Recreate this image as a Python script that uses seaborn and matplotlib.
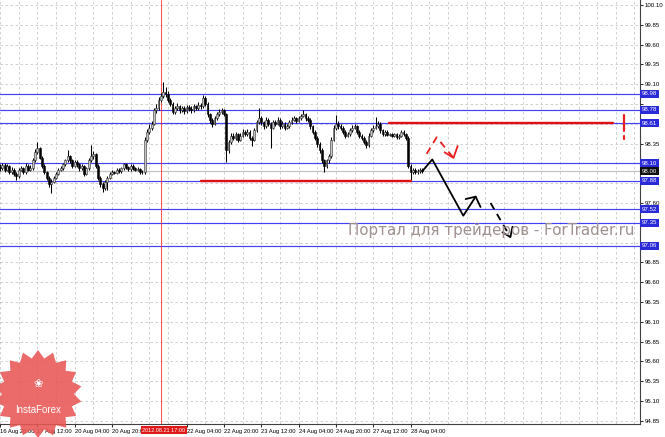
import numpy as np
import seaborn as sns
import matplotlib.pyplot as plt
import matplotlib.transforms as mtransforms
from matplotlib.patches import Polygon

# hourly bars, bar 0 = 16 Aug 20:00
first_open = 98.06
closes = [
    98.04, 98.08, 98.02, 98.07, 97.99, 98.02, 97.97, 97.94, 98.02, 98.04,
    97.99, 98.07, 98.02, 98.04, 98.14, 98.24, 98.29, 98.17, 98.07, 97.99,
    97.92, 97.84, 97.87, 97.92, 97.97, 98.02, 98.04, 98.09, 98.14, 98.19,
    98.14, 98.07, 98.12, 98.09, 98.04, 98.07, 97.97, 98.04, 98.14, 98.19,
    98.22, 98.07, 97.92, 97.84, 97.79, 97.87, 97.92, 97.97, 97.99, 97.98,
    98.02, 98.00, 98.04, 98.09, 98.05, 98.03, 98.07, 98.04, 98.02, 98.03,
    97.99, 97.99, 98.40, 98.50, 98.55, 98.60, 98.77, 98.80, 98.90, 98.95,
    99.00, 98.98, 98.90, 98.85, 98.75, 98.80, 98.82, 98.77, 98.80, 98.76,
    98.81, 98.79, 98.77, 98.82, 98.80, 98.84, 98.82, 98.93, 98.85, 98.72,
    98.65, 98.60, 98.67, 98.72, 98.75, 98.77, 98.72, 98.27, 98.37, 98.45,
    98.42, 98.47, 98.40, 98.45, 98.50, 98.47, 98.50, 98.42, 98.40, 98.52,
    98.62, 98.67, 98.62, 98.57, 98.65, 98.60, 98.55, 98.62, 98.60, 98.65,
    98.57, 98.60, 98.55, 98.57, 98.62, 98.65, 98.67, 98.64, 98.67, 98.70,
    98.72, 98.67, 98.65, 98.57, 98.50, 98.42, 98.35, 98.27, 98.14, 98.07,
    98.14, 98.19, 98.40, 98.55, 98.60, 98.57, 98.55, 98.50, 98.45, 98.47,
    98.52, 98.55, 98.57, 98.50, 98.45, 98.42, 98.37, 98.33, 98.45, 98.52,
    98.55, 98.57, 98.60, 98.52, 98.47, 98.50, 98.46, 98.47, 98.45, 98.47,
    98.43, 98.45, 98.50, 98.47, 98.42, 98.07, 97.99, 98.02, 97.99, 98.00,
    98.02, 98.00,
]
highs = [
    98.09, 98.11, 98.10, 98.09, 98.08, 98.05, 98.04, 97.99, 98.04, 98.07,
    98.06, 98.10, 98.09, 98.08, 98.17, 98.28, 98.37, 98.31, 98.19, 98.09,
    98.01, 97.94, 97.90, 97.94, 97.99, 98.04, 98.07, 98.11, 98.16, 98.27,
    98.21, 98.15, 98.14, 98.14, 98.10, 98.09, 98.08, 98.06, 98.17, 98.33,
    98.26, 98.23, 98.09, 97.94, 97.86, 97.89, 97.94, 97.99, 98.02, 98.01,
    98.04, 98.04, 98.06, 98.11, 98.10, 98.07, 98.09, 98.09, 98.06, 98.05,
    98.04, 98.02, 98.43, 98.54, 98.60, 98.64, 98.80, 98.85, 98.94, 98.99,
    99.13, 99.06, 99.01, 98.93, 98.87, 98.83, 98.86, 98.84, 98.83, 98.82,
    98.84, 98.84, 98.82, 98.85, 98.84, 98.87, 98.86, 98.96, 98.95, 98.87,
    98.74, 98.67, 98.70, 98.75, 98.79, 98.80, 98.79, 98.74, 98.40, 98.48,
    98.48, 98.50, 98.49, 98.48, 98.53, 98.52, 98.53, 98.52, 98.45, 98.55,
    98.65, 98.80, 98.70, 98.64, 98.68, 98.67, 98.62, 98.65, 98.65, 98.68,
    98.67, 98.63, 98.62, 98.60, 98.65, 98.68, 98.70, 98.69, 98.70, 98.73,
    98.77, 98.74, 98.70, 98.67, 98.59, 98.52, 98.44, 98.37, 98.29, 98.16,
    98.16, 98.22, 98.43, 98.58, 98.71, 98.63, 98.60, 98.57, 98.52, 98.50,
    98.55, 98.58, 98.60, 98.59, 98.52, 98.47, 98.44, 98.39, 98.48, 98.55,
    98.58, 98.69, 98.63, 98.62, 98.54, 98.52, 98.52, 98.49, 98.49, 98.49,
    98.49, 98.47, 98.52, 98.52, 98.49, 98.44, 98.09, 98.04, 98.04, 98.03,
    98.04, 98.04,
]
lows = [
    98.01, 98.02, 97.99, 98.00, 97.96, 97.97, 97.94, 97.89, 97.92, 98.00,
    97.96, 97.97, 98.00, 98.00, 98.02, 98.12, 98.22, 98.15, 98.04, 97.96,
    97.89, 97.80, 97.73, 97.85, 97.90, 97.95, 98.00, 98.02, 98.07, 98.12,
    98.11, 98.04, 98.05, 98.06, 98.01, 98.02, 97.94, 97.95, 98.02, 98.12,
    98.16, 98.04, 97.89, 97.80, 97.74, 97.77, 97.76, 97.90, 97.95, 97.96,
    97.96, 97.98, 97.98, 98.02, 98.03, 98.01, 98.01, 98.02, 98.00, 98.00,
    97.97, 97.96, 97.97, 98.37, 98.47, 98.52, 98.58, 98.74, 98.77, 98.87,
    98.92, 98.94, 98.87, 98.82, 98.72, 98.73, 98.78, 98.74, 98.75, 98.73,
    98.74, 98.76, 98.74, 98.75, 98.77, 98.78, 98.79, 98.80, 98.82, 98.69,
    98.61, 98.56, 98.58, 98.65, 98.70, 98.73, 98.70, 98.12, 98.23, 98.34,
    98.39, 98.40, 98.37, 98.38, 98.43, 98.44, 98.45, 98.39, 98.32, 98.38,
    98.50, 98.60, 98.59, 98.54, 98.55, 98.57, 98.29, 98.53, 98.57, 98.58,
    98.54, 98.55, 98.52, 98.53, 98.55, 98.60, 98.63, 98.61, 98.62, 98.65,
    98.68, 98.64, 98.62, 98.54, 98.47, 98.39, 98.31, 98.23, 98.10, 97.99,
    98.04, 98.11, 98.17, 98.38, 98.52, 98.54, 98.52, 98.47, 98.42, 98.43,
    98.45, 98.50, 98.53, 98.47, 98.42, 98.39, 98.34, 98.30, 98.31, 98.43,
    98.50, 98.53, 98.55, 98.49, 98.44, 98.45, 98.44, 98.44, 98.43, 98.43,
    98.41, 98.41, 98.43, 98.45, 98.39, 98.04, 97.89, 97.96, 97.97, 97.97,
    97.98, 97.98,
]

tick_bars = [0, 16, 32, 48, 80, 96, 112, 128, 144, 160, 176]
tick_labels = ['16 Aug 20:00', '17 Aug 12:00', '20 Aug 04:00', '20 Aug 20:00',
               '22 Aug 04:00', '22 Aug 20:00', '23 Aug 12:00', '24 Aug 04:00',
               '24 Aug 20:00', '27 Aug 12:00', '28 Aug 04:00']
crosshair_bar = 69
crosshair_label = '2012.08.21 17:00'

level_lines = [98.98, 98.78, 98.61, 98.10, 97.88, 97.52, 97.35, 97.06]
current_price = 98.00

support_price = 97.88
support_bars = [86.3, 176.1]
resist_price = 98.61
resist_bars = [166.7, 262.8]

# hand drawn forecast arrows (bar index, price)
path_bars = [181, 185.3, 198.6, 203.9]
path_prices = [98.00, 98.15, 97.44, 97.68]
path_head_bars = [199.6, 203.9, 206.0]
path_head_prices = [97.65, 97.68, 97.55]
dash_bars = [210.3, 218.8]
dash_prices = [97.60, 97.17]
dash_head_bars = [215.4, 218.8, 219.7]
dash_head_prices = [97.23, 97.17, 97.30]
red_bars = [182.9, 187.2, 194.4]
red_prices = [98.22, 98.43, 98.17]
red_head_bars = [190.6, 194.4, 196.2]
red_head_prices = [98.24, 98.17, 98.32]
excl_bar = 267.5
excl_prices = [98.71, 98.51]
excl_dot = 98.43

watermark = 'Портал для трейдеров - ForTrader.ru'

sns.set_style('white')
plt.rcParams['font.family'] = ['Liberation Sans', 'DejaVu Sans']

W, H = 665, 437
fig = plt.figure(figsize=(W / 100, H / 100), dpi=100)
ax = fig.add_axes([0, 13 / H, 640 / W, 424 / H])

n = len(closes)
x = np.arange(n)
closes_a = np.array(closes)
opens_a = np.concatenate([[first_open], closes_a[:-1]])
up = closes_a >= opens_a

# grid
for gx in np.arange(0, 280, 8):
    ax.axvline(gx, color='#c8c8c8', lw=0.6, ls=(0, (3, 3)), zorder=0)
yticks = np.round(np.arange(94.85, 100.11, 0.25), 2)
for gy in yticks:
    ax.axhline(gy, color='#c8c8c8', lw=0.6, ls=(0, (3, 3)), zorder=0)

# levels
for lv in level_lines:
    ax.axhline(lv, color='#4040f4', lw=0.85, zorder=1)
ax.axhline(current_price, color='#c4c4c4', lw=0.9, zorder=1)
ax.axvline(crosshair_bar, color='#ff2a2a', lw=0.75, alpha=0.8, zorder=1, snap=True)

# candles
ax.vlines(x, lows, highs, color='black', lw=0.75, zorder=2)
body_h = np.abs(closes_a - opens_a)
body_h = np.where(body_h < 0.004, 0.004, body_h)
ax.bar(x[up], body_h[up], bottom=opens_a[up], width=0.75,
       color='#c4c4c4', edgecolor='#303030', linewidth=0.4, zorder=3)
ax.bar(x[~up], body_h[~up], bottom=closes_a[~up], width=0.75,
       color='black', edgecolor='black', linewidth=0.4, zorder=3)

# red support / resistance
ax.plot(support_bars, [support_price] * 2, color='#e01010', lw=1.7, zorder=4)
ax.plot(resist_bars, [resist_price] * 2, color='#e01010', lw=1.7, zorder=4)

# forecast arrows
sns.lineplot(x=path_bars, y=path_prices, sort=False, color='black', lw=1.3, ax=ax, zorder=5)
sns.lineplot(x=path_head_bars, y=path_head_prices, sort=False, color='black', lw=1.3, ax=ax, zorder=5)
ax.plot(dash_bars, dash_prices, color='black', lw=1.3, ls=(0, (4, 3)), zorder=5)
ax.plot(dash_head_bars, dash_head_prices, color='black', lw=1.3, zorder=5)
ax.plot(red_bars, red_prices, color='#e82020', lw=1.3, ls=(0, (4, 3)), zorder=5)
ax.plot(red_head_bars, red_head_prices, color='#e82020', lw=1.3, zorder=5)
ax.plot([excl_bar, excl_bar], excl_prices, color='#e82020', lw=1.6, zorder=5)
ax.plot([excl_bar, excl_bar], [excl_dot + 0.02, excl_dot - 0.02], color='#e82020', lw=1.6, zorder=5)

ax.set_xlim(0.855, 274.36)
ax.set_ylim(94.81, 100.163)

for s in ['left', 'top']:
    ax.spines[s].set_visible(False)
for s in ['right', 'bottom']:
    ax.spines[s].set_color('#404040')
    ax.spines[s].set_linewidth(0.8)

# scale labels hidden behind the price boxes, as the terminal does
boxed = level_lines + [current_price]
ylabels = [f'{v:.2f}' if min(abs(v - b) for b in boxed) > 0.075 else '' for v in yticks]

ax.yaxis.tick_right()
ax.set_yticks(yticks)
ax.set_yticklabels(ylabels, fontsize=4.4)
ax.tick_params(axis='y', right=True, length=2, width=0.6, pad=1.5, colors='black')
ax.set_xticks(tick_bars)
ax.set_xticklabels(tick_labels, fontsize=4.2, ha='left')
ax.tick_params(axis='x', bottom=True, length=2, width=0.6, pad=1.5, colors='black')
ax.grid(False)

# price boxes on the scale
ytr = mtransforms.blended_transform_factory(ax.transAxes, ax.transData)
for lv in level_lines:
    ax.text(1.003, lv, f'{lv:.2f}', transform=ytr, fontsize=4.4, color='white',
            va='center', ha='left', zorder=6,
            bbox=dict(boxstyle='square,pad=0.25', fc='#2a2ad8', ec='none'))
ax.text(1.003, current_price, f'{current_price:.2f}', transform=ytr, fontsize=4.4,
        color='white', va='center', ha='left', zorder=6,
        bbox=dict(boxstyle='square,pad=0.25', fc='#101010', ec='none'))

xtr = mtransforms.blended_transform_factory(ax.transData, ax.transAxes)
ax.text(crosshair_bar + 1.2, -0.009, crosshair_label, transform=xtr, fontsize=4.0,
        color='white', va='top', ha='center', zorder=7, clip_on=False,
        bbox=dict(boxstyle='square,pad=0.3', fc='#e01818', ec='none'))

# watermark
fig.text(348 / W, 1 - 230 / H, watermark, fontsize=10.8, color='#a08f8f',
         ha='left', va='center', family=['DejaVu Sans'])

# InstaForex badge
cx, cy, r_out, r_in, k = 38, 394, 44, 36, 18
ang = np.linspace(np.pi / 2, np.pi / 2 + 2 * np.pi, 2 * k, endpoint=False)
rad = np.where(np.arange(2 * k) % 2 == 0, r_out, r_in)
pts = np.column_stack([(cx + rad * np.cos(ang)) / W, 1 - (cy - rad * np.sin(ang)) / H])
fig.add_artist(Polygon(pts, closed=True, transform=fig.transFigure,
                       fc='#e85654', ec='none', alpha=0.88, zorder=10))
fig.text(cx / W, 1 - 410 / H, 'InstaForex', fontsize=7, color='white',
         ha='center', va='center', zorder=11)
fig.text(cx / W, 1 - 384 / H, '\u2740', fontsize=8, color='white',
         ha='center', va='center', zorder=11, family=['DejaVu Sans'])

fig.savefig('out.png', dpi=100)
